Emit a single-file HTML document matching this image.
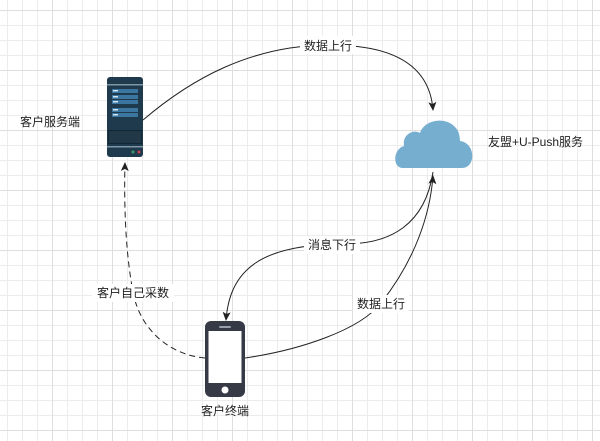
<!DOCTYPE html>
<html><head><meta charset="utf-8"><style>
html,body{margin:0;padding:0;background:#fff}
body{width:600px;height:441px;overflow:hidden;position:relative;font-family:"Liberation Sans","Noto Sans CJK SC",sans-serif}
.g{position:absolute;inset:0;background-image:linear-gradient(#ececec 1px,transparent 1px),linear-gradient(90deg,#ececec 1px,transparent 1px);background-size:15px 15px;background-position:7px 10px}
.m{position:absolute;inset:0;background-image:linear-gradient(#dedede 1px,transparent 1px),linear-gradient(90deg,#dedede 1px,transparent 1px);background-size:60px 60px;background-position:52px 10px}
</style></head><body>
<div class="g"></div><div class="m"></div>
<svg width="600" height="441" style="position:absolute;left:0;top:0" font-family="Liberation Sans, Noto Sans CJK SC, sans-serif" font-size="12">
<defs><marker id="a" markerWidth="10" markerHeight="10" refX="8" refY="5" orient="auto" markerUnits="userSpaceOnUse"><path d="M0,1 L9,5 L0,9 L2,5z" fill="#222"/></marker></defs>
<g fill="none" stroke="#222" stroke-width="1">
<path d="M143,120 C190,80 250,45 330,45 C400,45 430,70 433,110" marker-end="url(#a)"/>
<path d="M433,172 C425,225 390,244 345,244 C260,244 230,270 226,320" marker-end="url(#a)"/>
<path d="M245,358 C300,350 360,330 381,303 C415,260 430,215 433,176" marker-end="url(#a)"/>
<path d="M205,358 C170,355 140,330 133,292 C125,250 124,200 125,163" stroke-dasharray="6,4" marker-end="url(#a)"/>
</g>
<rect x="300" y="36" width="56" height="18" fill="#fff"/>
<text x="328" y="50" text-anchor="middle" fill="#222">数据上行</text>
<rect x="304" y="236" width="56" height="18" fill="#fff"/>
<text x="332" y="249" text-anchor="middle" fill="#222">消息下行</text>
<rect x="353" y="295" width="56" height="18" fill="#fff"/>
<text x="381" y="308" text-anchor="middle" fill="#222">数据上行</text>
<rect x="92" y="284" width="82" height="18" fill="#fff"/>
<text x="133" y="297" text-anchor="middle" fill="#222">客户自己采数</text>
<text x="20" y="126" fill="#222">客户服务端</text>
<text x="488" y="146" fill="#222">友盟+U-Push服务</text>
<text x="225" y="415" text-anchor="middle" fill="#222">客户终端</text>
<rect x="107" y="77" width="36" height="80" rx="3" fill="#1f3a4d"/>
<rect x="107" y="84" width="36" height="1.5" fill="#7f96a5"/>
<rect x="107" y="146" width="36" height="1.5" fill="#7f96a5"/>
<g fill="#3b76a0"><rect x="112" y="89" width="26" height="4"/><rect x="112" y="95" width="26" height="4"/><rect x="112" y="100" width="26" height="4"/><rect x="112" y="108" width="26" height="4"/><rect x="112" y="113" width="26" height="4"/></g>
<g fill="#cfe3f0"><rect x="113" y="90" width="5" height="1.5"/><rect x="113" y="96" width="5" height="1.5"/><rect x="113" y="101" width="5" height="1.5"/><rect x="113" y="109" width="5" height="1.5"/><rect x="113" y="114" width="5" height="1.5"/></g>
<rect x="108" y="130" width="34" height="14" fill="#132634"/>
<g stroke="#355468" stroke-width="0.8"><path d="M110,131v12M112,131v12M114,131v12M116,131v12M118,131v12M120,131v12M122,131v12M124,131v12M126,131v12M128,131v12M130,131v12M132,131v12M134,131v12M136,131v12M138,131v12M140,131v12"/></g>
<circle cx="133" cy="152" r="1.5" fill="#3a9a6a"/><circle cx="139" cy="152" r="1.5" fill="#c04050"/>
<path d="M403,168 C392,168 393,149 404,146 C402,134 414,129 420,133 C424,119 449,115 458,131 C460,136 460,141 460,141 C476,143 476,168 462,168 Z" fill="#75aecf"/>
<rect x="205" y="321" width="40" height="76" rx="6" fill="#363a46"/>
<rect x="208.5" y="331" width="33" height="52" fill="#fff"/>
<rect x="219" y="326" width="12" height="2" rx="1" fill="#9aa0ad"/>
<circle cx="225" cy="390" r="3.5" fill="#fff"/>
</svg>
</body></html>
